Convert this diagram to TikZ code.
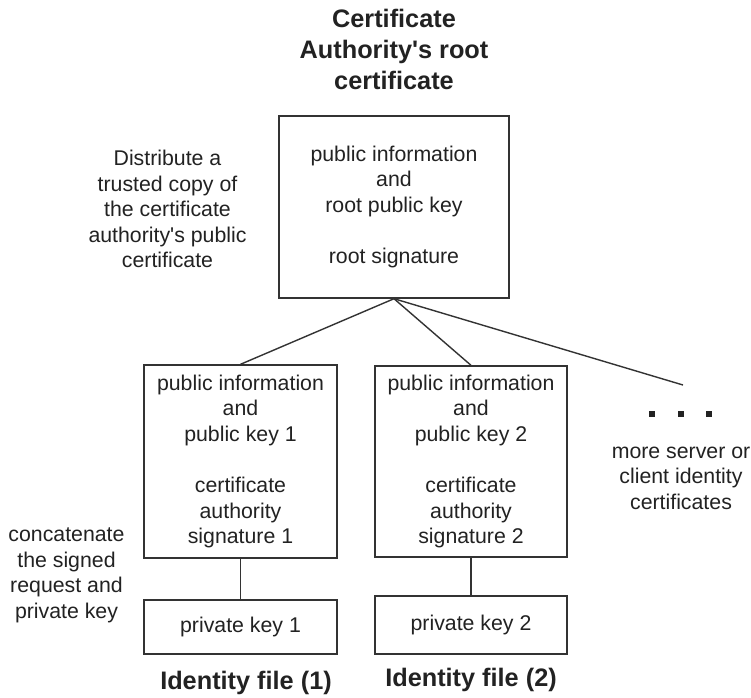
\documentclass[tikz,border=0pt]{standalone}
\usepackage{fontspec}
\setmainfont{Liberation Sans}
\definecolor{ink}{RGB}{34,34,34}
\definecolor{edge}{RGB}{51,51,51}
\begin{document}
\begin{tikzpicture}[x=1pt,y=-1pt,
  box/.style={draw=edge, line width=1.4pt, align=center, inner sep=0pt,
    font=\fontsize{21.3}{25.6}\selectfont, text=ink},
  lbl/.style={align=center, inner sep=0pt, font=\fontsize{21.3}{25.5}\selectfont, text=ink},
  ttl/.style={align=center, inner sep=0pt, font=\fontsize{25.3}{31}\selectfont\bfseries, text=ink},
  conn/.style={draw=edge, line width=1.4pt},
  dotsq/.style={fill=ink, minimum size=6.5pt, inner sep=0pt}]
\useasboundingbox[fill=white] (0,0) rectangle (751,697);

\node[ttl] (title) at (394,49) {Certificate\\Authority\textquotesingle s root\\certificate};

\node[box, minimum width=230pt, minimum height=182pt] (root) at (394,207)
  {public information\\and\\root public key\\[25.6pt]root signature};

\node[box, minimum width=193pt, minimum height=193pt] (b1) at (240.5,461.5)
  {public information\\and\\public key 1\\[25.6pt]certificate\\authority\\signature 1};
\node[box, minimum width=192pt, minimum height=191pt] (b2) at (471,461.5)
  {public information\\and\\public key 2\\[25.6pt]certificate\\authority\\signature 2};

\node[box, minimum width=193pt, minimum height=54pt] (pk1) at (240.5,627) {private key 1};
\node[box, minimum width=192pt, minimum height=58pt] (pk2) at (471,625) {private key 2};

\coordinate (more) at (683,385);
\draw[conn] (root.south) -- (b1.north);
\draw[conn] (root.south) -- (b2.north);
\draw[conn] (root.south) -- (more);
\draw[conn] (b1.south) -- (pk1.north);
\draw[conn] (b2.south) -- (pk2.north);

\node[dotsq] (d1) at (652,414) {};
\node[dotsq] (d2) at (681,414) {};
\node[dotsq] (d3) at (709,414) {};

\node[lbl] (distribute) at (167.5,209) {Distribute a\\trusted copy of\\the certificate\\authority\textquotesingle s public\\certificate};
\node[lbl] (concat) at (66.5,575.5) {concatenate\\the signed\\request and\\private key};
\node[lbl] (moretext) at (681,478) {more server or\\client identity\\certificates};

\node[ttl] (id1) at (246,683) {Identity file (1)};
\node[ttl] (id2) at (471,680) {Identity file (2)};
\end{tikzpicture}
\end{document}
